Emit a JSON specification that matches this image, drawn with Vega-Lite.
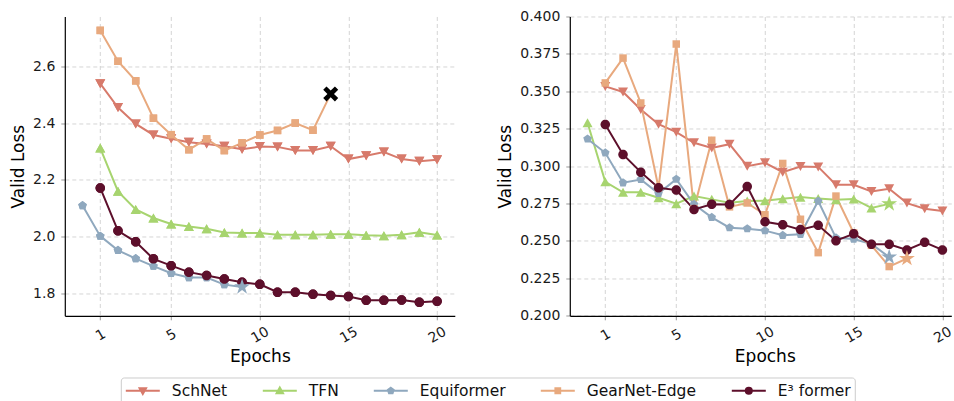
{
  "$schema": "https://vega.github.io/schema/vega-lite/v6.json",
  "padding": {"left": 8.8, "top": 9.5, "right": 0, "bottom": 0},
  "spacing": 41,
  "datasets": {
    "left": [
      {"m": "SchNet", "e": 1, "v": 2.539}, {"m": "SchNet", "e": 2, "v": 2.455}, {"m": "SchNet", "e": 3, "v": 2.397}, {"m": "SchNet", "e": 4, "v": 2.358}, {"m": "SchNet", "e": 5, "v": 2.345},
      {"m": "SchNet", "e": 6, "v": 2.332}, {"m": "SchNet", "e": 7, "v": 2.326}, {"m": "SchNet", "e": 8, "v": 2.318}, {"m": "SchNet", "e": 9, "v": 2.308}, {"m": "SchNet", "e": 10, "v": 2.317},
      {"m": "SchNet", "e": 11, "v": 2.316}, {"m": "SchNet", "e": 12, "v": 2.303}, {"m": "SchNet", "e": 13, "v": 2.303}, {"m": "SchNet", "e": 14, "v": 2.318}, {"m": "SchNet", "e": 15, "v": 2.273},
      {"m": "SchNet", "e": 16, "v": 2.285}, {"m": "SchNet", "e": 17, "v": 2.298}, {"m": "SchNet", "e": 18, "v": 2.273}, {"m": "SchNet", "e": 19, "v": 2.265}, {"m": "SchNet", "e": 20, "v": 2.271},
      {"m": "TFN", "e": 1, "v": 2.312}, {"m": "TFN", "e": 2, "v": 2.159}, {"m": "TFN", "e": 3, "v": 2.095}, {"m": "TFN", "e": 4, "v": 2.065}, {"m": "TFN", "e": 5, "v": 2.044},
      {"m": "TFN", "e": 6, "v": 2.035}, {"m": "TFN", "e": 7, "v": 2.027}, {"m": "TFN", "e": 8, "v": 2.014}, {"m": "TFN", "e": 9, "v": 2.012}, {"m": "TFN", "e": 10, "v": 2.012},
      {"m": "TFN", "e": 11, "v": 2.006}, {"m": "TFN", "e": 12, "v": 2.006}, {"m": "TFN", "e": 13, "v": 2.006}, {"m": "TFN", "e": 14, "v": 2.008}, {"m": "TFN", "e": 15, "v": 2.008},
      {"m": "TFN", "e": 16, "v": 2.004}, {"m": "TFN", "e": 17, "v": 2.002}, {"m": "TFN", "e": 18, "v": 2.006}, {"m": "TFN", "e": 19, "v": 2.015}, {"m": "TFN", "e": 20, "v": 2.005},
      {"m": "Equiformer", "e": 0, "v": 2.109}, {"m": "Equiformer", "e": 1, "v": 2.001}, {"m": "Equiformer", "e": 2, "v": 1.951}, {"m": "Equiformer", "e": 3, "v": 1.922}, {"m": "Equiformer", "e": 4, "v": 1.895},
      {"m": "Equiformer", "e": 5, "v": 1.870}, {"m": "Equiformer", "e": 6, "v": 1.855}, {"m": "Equiformer", "e": 7, "v": 1.855}, {"m": "Equiformer", "e": 8, "v": 1.830}, {"m": "Equiformer", "e": 9, "v": 1.822, "end": "star"},
      {"m": "GearNet-Edge", "e": 1, "v": 2.727}, {"m": "GearNet-Edge", "e": 2, "v": 2.618}, {"m": "GearNet-Edge", "e": 3, "v": 2.549}, {"m": "GearNet-Edge", "e": 4, "v": 2.417}, {"m": "GearNet-Edge", "e": 5, "v": 2.359},
      {"m": "GearNet-Edge", "e": 6, "v": 2.306}, {"m": "GearNet-Edge", "e": 7, "v": 2.344}, {"m": "GearNet-Edge", "e": 8, "v": 2.303}, {"m": "GearNet-Edge", "e": 9, "v": 2.330}, {"m": "GearNet-Edge", "e": 10, "v": 2.358},
      {"m": "GearNet-Edge", "e": 11, "v": 2.374}, {"m": "GearNet-Edge", "e": 12, "v": 2.400}, {"m": "GearNet-Edge", "e": 13, "v": 2.375}, {"m": "GearNet-Edge", "e": 14, "v": 2.503, "end": "x"},
      {"m": "E³ former", "e": 1, "v": 2.171}, {"m": "E³ former", "e": 2, "v": 2.020}, {"m": "E³ former", "e": 3, "v": 1.981}, {"m": "E³ former", "e": 4, "v": 1.921}, {"m": "E³ former", "e": 5, "v": 1.897},
      {"m": "E³ former", "e": 6, "v": 1.874}, {"m": "E³ former", "e": 7, "v": 1.862}, {"m": "E³ former", "e": 8, "v": 1.850}, {"m": "E³ former", "e": 9, "v": 1.838}, {"m": "E³ former", "e": 10, "v": 1.831},
      {"m": "E³ former", "e": 11, "v": 1.803}, {"m": "E³ former", "e": 12, "v": 1.803}, {"m": "E³ former", "e": 13, "v": 1.796}, {"m": "E³ former", "e": 14, "v": 1.792}, {"m": "E³ former", "e": 15, "v": 1.788},
      {"m": "E³ former", "e": 16, "v": 1.775}, {"m": "E³ former", "e": 17, "v": 1.775}, {"m": "E³ former", "e": 18, "v": 1.776}, {"m": "E³ former", "e": 19, "v": 1.768}, {"m": "E³ former", "e": 20, "v": 1.771}
    ],
    "right": [
      {"m": "SchNet", "e": 1, "v": 0.3533}, {"m": "SchNet", "e": 2, "v": 0.3496}, {"m": "SchNet", "e": 3, "v": 0.3378}, {"m": "SchNet", "e": 4, "v": 0.328}, {"m": "SchNet", "e": 5, "v": 0.3227},
      {"m": "SchNet", "e": 6, "v": 0.3156}, {"m": "SchNet", "e": 7, "v": 0.3122}, {"m": "SchNet", "e": 8, "v": 0.3147}, {"m": "SchNet", "e": 9, "v": 0.300}, {"m": "SchNet", "e": 10, "v": 0.3022},
      {"m": "SchNet", "e": 11, "v": 0.296}, {"m": "SchNet", "e": 12, "v": 0.2998}, {"m": "SchNet", "e": 13, "v": 0.2995}, {"m": "SchNet", "e": 14, "v": 0.2876}, {"m": "SchNet", "e": 15, "v": 0.2876},
      {"m": "SchNet", "e": 16, "v": 0.2831}, {"m": "SchNet", "e": 17, "v": 0.2849}, {"m": "SchNet", "e": 18, "v": 0.2753}, {"m": "SchNet", "e": 19, "v": 0.2716}, {"m": "SchNet", "e": 20, "v": 0.270},
      {"m": "TFN", "e": 0, "v": 0.329}, {"m": "TFN", "e": 1, "v": 0.2895}, {"m": "TFN", "e": 2, "v": 0.2825}, {"m": "TFN", "e": 3, "v": 0.2825}, {"m": "TFN", "e": 4, "v": 0.2789},
      {"m": "TFN", "e": 5, "v": 0.2749}, {"m": "TFN", "e": 6, "v": 0.280}, {"m": "TFN", "e": 7, "v": 0.2778}, {"m": "TFN", "e": 8, "v": 0.2756}, {"m": "TFN", "e": 9, "v": 0.2767},
      {"m": "TFN", "e": 10, "v": 0.2769}, {"m": "TFN", "e": 11, "v": 0.2782}, {"m": "TFN", "e": 12, "v": 0.2793}, {"m": "TFN", "e": 13, "v": 0.2783}, {"m": "TFN", "e": 14, "v": 0.2776},
      {"m": "TFN", "e": 15, "v": 0.2781}, {"m": "TFN", "e": 16, "v": 0.2721}, {"m": "TFN", "e": 17, "v": 0.2748, "end": "star"},
      {"m": "Equiformer", "e": 0, "v": 0.3182}, {"m": "Equiformer", "e": 1, "v": 0.3089}, {"m": "Equiformer", "e": 2, "v": 0.2889}, {"m": "Equiformer", "e": 3, "v": 0.2911}, {"m": "Equiformer", "e": 4, "v": 0.2818},
      {"m": "Equiformer", "e": 5, "v": 0.2913}, {"m": "Equiformer", "e": 6, "v": 0.2745}, {"m": "Equiformer", "e": 7, "v": 0.2658}, {"m": "Equiformer", "e": 8, "v": 0.2589}, {"m": "Equiformer", "e": 9, "v": 0.2582},
      {"m": "Equiformer", "e": 10, "v": 0.2569}, {"m": "Equiformer", "e": 11, "v": 0.2538}, {"m": "Equiformer", "e": 12, "v": 0.2545}, {"m": "Equiformer", "e": 13, "v": 0.2767}, {"m": "Equiformer", "e": 14, "v": 0.2521},
      {"m": "Equiformer", "e": 15, "v": 0.2513}, {"m": "Equiformer", "e": 16, "v": 0.2480}, {"m": "Equiformer", "e": 17, "v": 0.2392, "end": "star"},
      {"m": "GearNet-Edge", "e": 1, "v": 0.3556}, {"m": "GearNet-Edge", "e": 2, "v": 0.3722}, {"m": "GearNet-Edge", "e": 3, "v": 0.3422}, {"m": "GearNet-Edge", "e": 4, "v": 0.2856}, {"m": "GearNet-Edge", "e": 5, "v": 0.3816},
      {"m": "GearNet-Edge", "e": 6, "v": 0.2716}, {"m": "GearNet-Edge", "e": 7, "v": 0.3173}, {"m": "GearNet-Edge", "e": 8, "v": 0.2728}, {"m": "GearNet-Edge", "e": 9, "v": 0.2754}, {"m": "GearNet-Edge", "e": 10, "v": 0.2675},
      {"m": "GearNet-Edge", "e": 11, "v": 0.3018}, {"m": "GearNet-Edge", "e": 12, "v": 0.2645}, {"m": "GearNet-Edge", "e": 13, "v": 0.2422}, {"m": "GearNet-Edge", "e": 14, "v": 0.280}, {"m": "GearNet-Edge", "e": 15, "v": 0.2553},
      {"m": "GearNet-Edge", "e": 16, "v": 0.2471}, {"m": "GearNet-Edge", "e": 17, "v": 0.2329}, {"m": "GearNet-Edge", "e": 18, "v": 0.2383, "end": "star"},
      {"m": "E³ former", "e": 1, "v": 0.3278}, {"m": "E³ former", "e": 2, "v": 0.3078}, {"m": "E³ former", "e": 3, "v": 0.296}, {"m": "E³ former", "e": 4, "v": 0.2856}, {"m": "E³ former", "e": 5, "v": 0.284},
      {"m": "E³ former", "e": 6, "v": 0.2711}, {"m": "E³ former", "e": 7, "v": 0.2745}, {"m": "E³ former", "e": 8, "v": 0.2743}, {"m": "E³ former", "e": 9, "v": 0.2864}, {"m": "E³ former", "e": 10, "v": 0.2628},
      {"m": "E³ former", "e": 11, "v": 0.2609}, {"m": "E³ former", "e": 12, "v": 0.2576}, {"m": "E³ former", "e": 13, "v": 0.2605}, {"m": "E³ former", "e": 14, "v": 0.2502}, {"m": "E³ former", "e": 15, "v": 0.2548},
      {"m": "E³ former", "e": 16, "v": 0.2478}, {"m": "E³ former", "e": 17, "v": 0.2478}, {"m": "E³ former", "e": 18, "v": 0.244}, {"m": "E³ former", "e": 19, "v": 0.2491}, {"m": "E³ former", "e": 20, "v": 0.244}
    ]
  },
  "config": {
    "font": "DejaVu Sans",
    "view": {"stroke": null},
    "axis": {
      "labelFont": "DejaVu Sans", "labelFontSize": 14, "labelColor": "#1a1a1a",
      "titleFont": "DejaVu Sans", "titleFontSize": 17, "titleFontWeight": "normal", "titleColor": "#000000",
      "gridColor": "#d0d0d0", "gridDash": [4, 3], "gridWidth": 0.9,
      "domainColor": "#000000", "domainWidth": 1.2,
      "tickColor": "#999999", "tickSize": 4, "tickWidth": 1,
      "labelPadding": 3, "titlePadding": 8
    },
    "axisY": {"labelPadding": 6, "titlePadding": 5}
  },
  "resolve": {"scale": {"color": "shared"}},
  "hconcat": [
    {
      "width": 390, "height": 299.3,
      "data": {"name": "left"},
      "encoding": {
        "x": {"field": "e", "type": "quantitative", "scale": {"domain": [-1, 21], "nice": false, "zero": false},
          "axis": {"values": [1, 5, 10, 15, 20], "title": "Epochs", "labelAngle": -30, "labelAlign": "center", "labelBaseline": "middle", "labelPadding": 15, "titleX": 195, "titleY": 45.7, "titleBaseline": "alphabetic"}},
        "y": {"field": "v", "type": "quantitative", "scale": {"domain": [1.72, 2.776], "nice": false, "zero": false},
          "axis": {"values": [1.8, 2.0, 2.2, 2.4, 2.6], "format": ".1f", "title": "Valid Loss"}}
      },
      "layer": [
        {"transform": [{"filter": "!datum.end"}],
         "mark": {"type": "point", "filled": true, "size": 100, "opacity": 1,
           "shape": {"expr": "datum.m === 'SchNet' ? 'M-1,-0.9L1,-0.9L0,0.9Z' : datum.m === 'TFN' ? 'M-1,0.9L1,0.9L0,-0.9Z' : datum.m === 'Equiformer' ? 'M0,-0.9L0.856,-0.278L0.529,0.728L-0.529,0.728L-0.856,-0.278Z' : datum.m === 'GearNet-Edge' ? 'M-0.75,-0.75H0.75V0.75H-0.75Z' : 'M-0.95,0A0.95,0.95,0,1,0,0.95,0A0.95,0.95,0,1,0,-0.95,0Z'"}},
         "encoding": {
           "color": {"field": "m", "type": "nominal",
             "scale": {"domain": ["SchNet", "TFN", "Equiformer", "GearNet-Edge", "E³ former"], "range": ["#d77a6b", "#a7d46f", "#8fa8be", "#e8a97e", "#5d0f2b"]},
             "legend": {"title": null, "orient": "none", "legendX": 56, "legendY": 361, "direction": "horizontal", "columns": 5,
               "symbolSize": 256, "labelOffset": 29, "columnPadding": 31, "padding": 4,
               "strokeColor": "#cccccc", "fillColor": "#ffffff", "cornerRadius": 3,
               "labelFont": "DejaVu Sans", "labelFontSize": 15.5, "labelColor": "#111111", "symbolStrokeWidth": 2, "symbolOpacity": 1,
               "encode": {"symbols": {"update": {
                 "shape": {"signal": "datum.value === 'SchNet' ? 'M-1,0H3.25M0.725,-0.3H1.525L1.125,0.4Z' : datum.value === 'TFN' ? 'M-1,0H3.25M0.725,0.3H1.525L1.125,-0.4Z' : datum.value === 'Equiformer' ? 'M-1,0H3.25M1.125,-0.38L1.486,-0.117L1.348,0.307L0.902,0.307L0.764,-0.117Z' : datum.value === 'GearNet-Edge' ? 'M-1,0H3.25M0.825,-0.3H1.425V0.3H0.825Z' : 'M-1,0H3.25M0.745,0A0.38,0.38,0,1,0,1.505,0A0.38,0.38,0,1,0,0.745,0Z'"},
                 "stroke": {"scale": "color", "field": "value"},
                 "fill": {"scale": "color", "field": "value"},
                 "strokeWidth": {"value": 2},
                 "opacity": {"value": 1}
               }}}}}
         }},
        {"mark": {"type": "line", "strokeWidth": 2},
         "encoding": {"color": {"field": "m", "type": "nominal"}}},
        {"transform": [{"filter": "!datum.end"}],
         "mark": {"type": "point", "filled": true, "size": 100, "opacity": 1,
           "shape": {"expr": "datum.m === 'SchNet' ? 'M-1,-0.9L1,-0.9L0,0.9Z' : datum.m === 'TFN' ? 'M-1,0.9L1,0.9L0,-0.9Z' : datum.m === 'Equiformer' ? 'M0,-0.9L0.856,-0.278L0.529,0.728L-0.529,0.728L-0.856,-0.278Z' : datum.m === 'GearNet-Edge' ? 'M-0.75,-0.75H0.75V0.75H-0.75Z' : 'M-0.95,0A0.95,0.95,0,1,0,0.95,0A0.95,0.95,0,1,0,-0.95,0Z'"}},
         "encoding": {"color": {"field": "m", "type": "nominal"}}},
        {"transform": [{"filter": "datum.end === 'star'"}],
         "mark": {"type": "point", "filled": true, "size": 280, "opacity": 1, "shape": "M0,-1L0.2245,-0.309L0.951,-0.309L0.363,0.118L0.588,0.809L0,0.382L-0.588,0.809L-0.363,0.118L-0.951,-0.309L-0.2245,-0.309Z"},
         "encoding": {"color": {"field": "m", "type": "nominal"}}},
        {"transform": [{"filter": "datum.end === 'x'"}],
         "mark": {"type": "point", "filled": true, "size": 225, "opacity": 1, "color": "#000000", "shape": "M0.5625,-1L1,-0.5625L0.4375,0L1,0.5625L0.5625,1L0,0.4375L-0.5625,1L-1,0.5625L-0.4375,0L-1,-0.5625L-0.5625,-1L0,-0.4375Z"}}
      ]
    },
    {
      "width": 381.5, "height": 299.3,
      "data": {"name": "right"},
      "encoding": {
        "x": {"field": "e", "type": "quantitative", "scale": {"domain": [-1, 20.5], "nice": false, "zero": false},
          "axis": {"values": [1, 5, 10, 15, 20], "title": "Epochs", "labelAngle": -30, "labelAlign": "center", "labelBaseline": "middle", "labelPadding": 15, "titleX": 195, "titleY": 45.7, "titleBaseline": "alphabetic"}},
        "y": {"field": "v", "type": "quantitative", "scale": {"domain": [0.2, 0.4], "nice": false, "zero": false},
          "axis": {"values": [0.2, 0.225, 0.25, 0.275, 0.3, 0.325, 0.35, 0.375, 0.4], "format": ".3f", "title": "Valid Loss"}}
      },
      "layer": [
        {"mark": {"type": "line", "strokeWidth": 2},
         "encoding": {"color": {"field": "m", "type": "nominal"}}},
        {"transform": [{"filter": "!datum.end"}],
         "mark": {"type": "point", "filled": true, "size": 100, "opacity": 1,
           "shape": {"expr": "datum.m === 'SchNet' ? 'M-1,-0.9L1,-0.9L0,0.9Z' : datum.m === 'TFN' ? 'M-1,0.9L1,0.9L0,-0.9Z' : datum.m === 'Equiformer' ? 'M0,-0.9L0.856,-0.278L0.529,0.728L-0.529,0.728L-0.856,-0.278Z' : datum.m === 'GearNet-Edge' ? 'M-0.75,-0.75H0.75V0.75H-0.75Z' : 'M-0.95,0A0.95,0.95,0,1,0,0.95,0A0.95,0.95,0,1,0,-0.95,0Z'"}},
         "encoding": {"color": {"field": "m", "type": "nominal"}}},
        {"transform": [{"filter": "datum.end === 'star'"}],
         "mark": {"type": "point", "filled": true, "size": 280, "opacity": 1, "shape": "M0,-1L0.2245,-0.309L0.951,-0.309L0.363,0.118L0.588,0.809L0,0.382L-0.588,0.809L-0.363,0.118L-0.951,-0.309L-0.2245,-0.309Z"},
         "encoding": {"color": {"field": "m", "type": "nominal"}}}
      ]
    }
  ]
}
